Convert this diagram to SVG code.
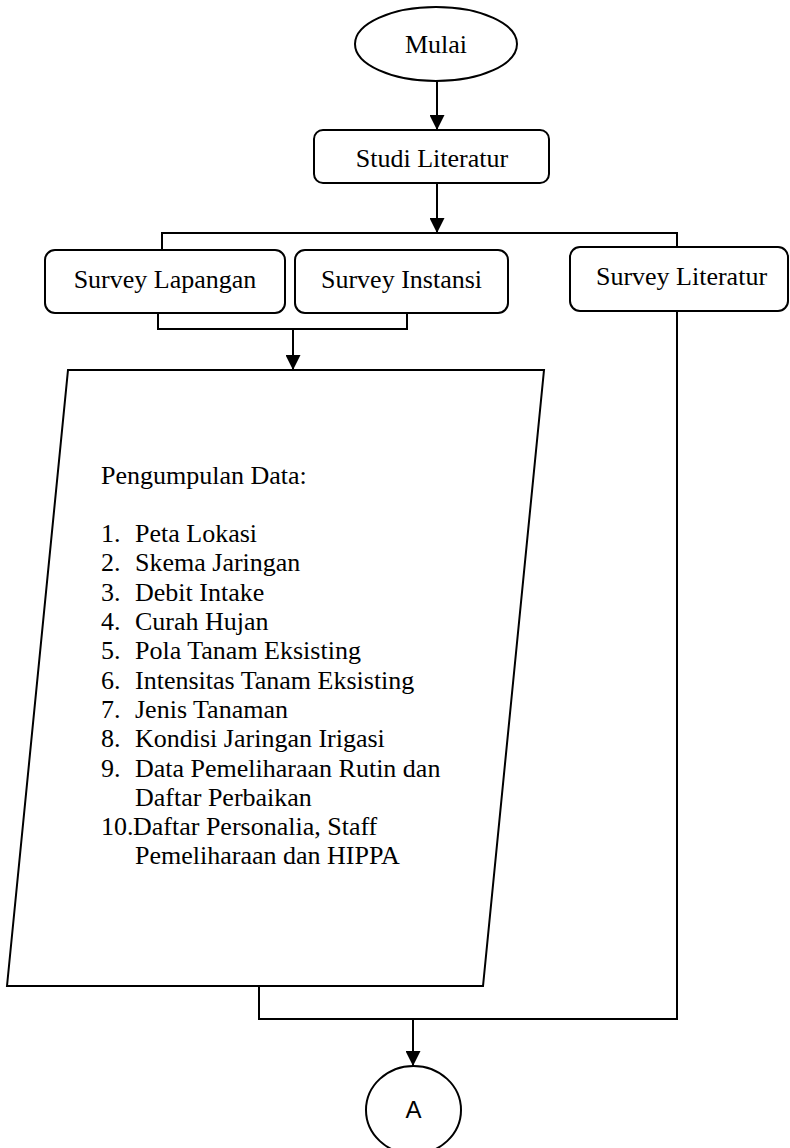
<svg xmlns="http://www.w3.org/2000/svg" width="790" height="1148" viewBox="0 0 790 1148">
<style>
.s{fill:#fff;stroke:#000;stroke-width:2}
.c{fill:none;stroke:#000;stroke-width:2}
.t{font-family:"Liberation Serif","Times New Roman",serif;font-size:26px;fill:#000}
.m{text-anchor:middle}
.a{font-family:"Liberation Sans",Arial,sans-serif;font-size:24px;fill:#000;text-anchor:middle}
</style>
<defs>
<marker id="ah" viewBox="0 0 16 16" refX="16" refY="8" markerWidth="15" markerHeight="15" markerUnits="userSpaceOnUse" orient="auto">
<path d="M0,0 L16,8 L0,16 z" fill="#000"/>
</marker>
</defs>
<g id="connectors">
<line class="c" x1="437" y1="81" x2="437" y2="130" marker-end="url(#ah)"/>
<line class="c" x1="437" y1="183" x2="437" y2="233" marker-end="url(#ah)"/>
<polyline class="c" points="162,250 162,233 677,233 677,247"/>
<polyline class="c" points="158,313 158,329 407,329 407,313"/>
<line class="c" x1="293" y1="329" x2="293" y2="370" marker-end="url(#ah)"/>
<polyline class="c" points="259,986 259,1019 677,1019 677,311"/>
<line class="c" x1="413" y1="1019" x2="413" y2="1066" marker-end="url(#ah)"/>
</g>
<g id="mulai">
<ellipse class="s" cx="436" cy="44" rx="81" ry="37"/>
<text class="t m" x="436" y="53">Mulai</text>
</g>
<g id="studi-literatur">
<rect class="s" x="314" y="130" width="235" height="53" rx="9"/>
<text class="t m" x="432" y="167">Studi Literatur</text>
</g>
<g id="survey-lapangan">
<rect class="s" x="45" y="250" width="240" height="63" rx="10"/>
<text class="t m" x="165" y="288">Survey Lapangan</text>
</g>
<g id="survey-instansi">
<rect class="s" x="295" y="250" width="213" height="63" rx="10"/>
<text class="t m" x="401.5" y="288">Survey Instansi</text>
</g>
<g id="survey-literatur">
<rect class="s" x="570" y="247" width="218" height="64" rx="10"/>
<text class="t m" x="681.5" y="285">Survey Literatur</text>
</g>
<g id="pengumpulan-data">
<polygon class="s" points="68,370 544,370 483,986 7,986"/>
<text class="t" x="101" y="484">Pengumpulan Data:</text>
<text class="t" x="101" y="542">1.</text><text class="t" x="135" y="542">Peta Lokasi</text>
<text class="t" x="101" y="571">2.</text><text class="t" x="135" y="571">Skema Jaringan</text>
<text class="t" x="101" y="601">3.</text><text class="t" x="135" y="601">Debit Intake</text>
<text class="t" x="101" y="630">4.</text><text class="t" x="135" y="630">Curah Hujan</text>
<text class="t" x="101" y="659">5.</text><text class="t" x="135" y="659">Pola Tanam Eksisting</text>
<text class="t" x="101" y="689">6.</text><text class="t" x="135" y="689">Intensitas Tanam Eksisting</text>
<text class="t" x="101" y="718">7.</text><text class="t" x="135" y="718">Jenis Tanaman</text>
<text class="t" x="101" y="747">8.</text><text class="t" x="135" y="747">Kondisi Jaringan Irigasi</text>
<text class="t" x="101" y="777">9.</text><text class="t" x="135" y="777">Data Pemeliharaan Rutin dan</text>
<text class="t" x="135" y="806">Daftar Perbaikan</text>
<text class="t" x="101" y="835">10.</text><text class="t" x="133" y="835">Daftar Personalia, Staff</text>
<text class="t" x="135" y="864">Pemeliharaan dan HIPPA</text>
</g>
<g id="a">
<ellipse class="s" cx="413.5" cy="1110" rx="47.5" ry="44"/>
<text class="a" x="413.5" y="1118">A</text>
</g>
</svg>
